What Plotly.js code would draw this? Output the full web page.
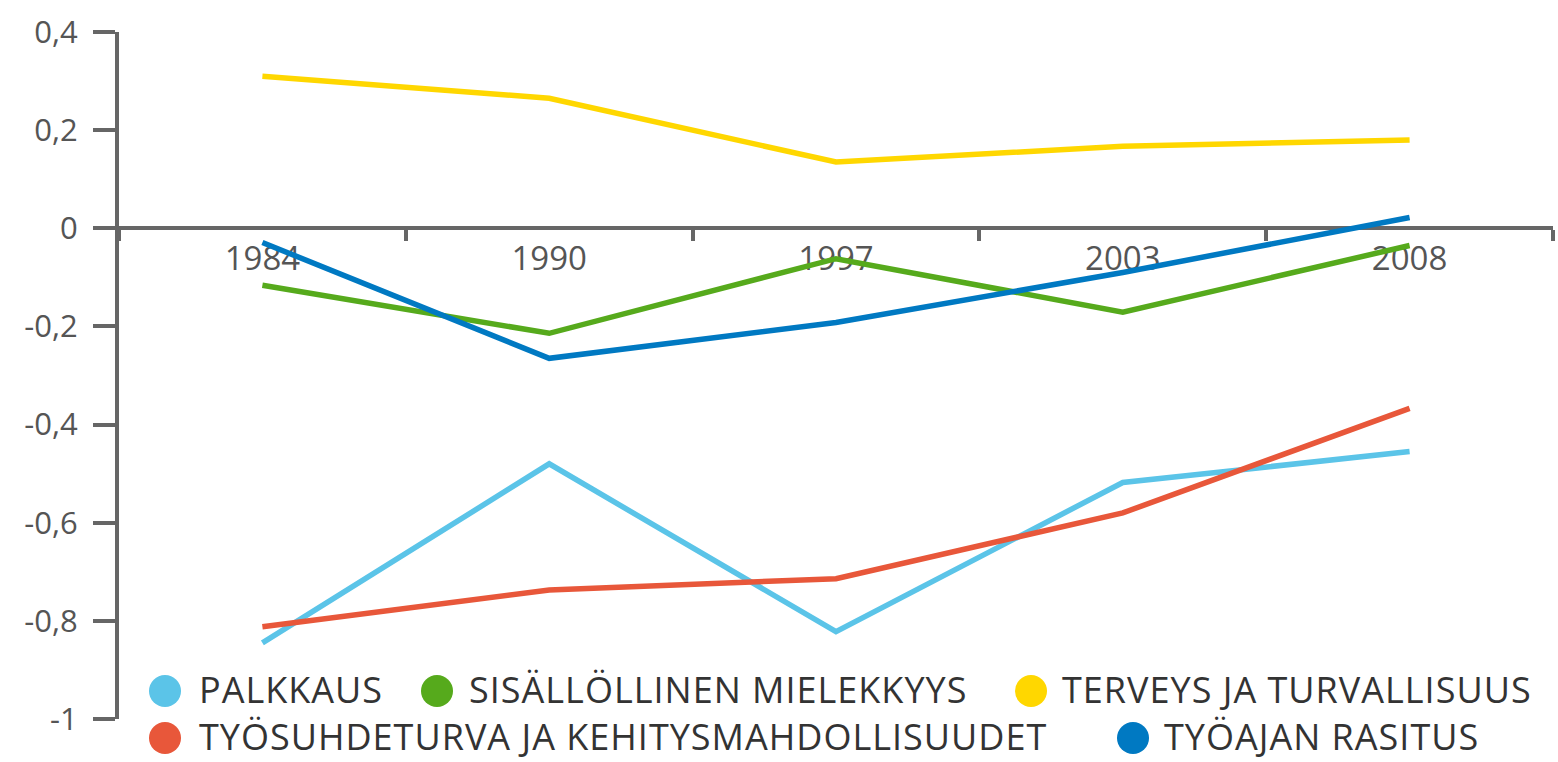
<!DOCTYPE html>
<html>
<head>
<meta charset="utf-8">
<script src="https://cdn.plot.ly/plotly-3.0.1.min.js"></script>
<style>html,body{margin:0;padding:0;background:#fff;}#chart{width:1558px;height:762px;}</style>
</head>
<body>
<div id="chart"></div>
<script>
// ---- data ----
var years = ['1984', '1990', '1997', '2003', '2008'];
var seriesNames = [
  'PALKKAUS',
  'SISÄLLÖLLINEN MIELEKKYYS',
  'TERVEYS JA TURVALLISUUS',
  'TYÖSUHDETURVA JA KEHITYSMAHDOLLISUUDET',
  'TYÖAJAN RASITUS'
];
var palkkaus      = [-0.845, -0.48, -0.822, -0.518, -0.455];
var sisallollinen = [-0.116, -0.214, -0.062, -0.171, -0.035];
var terveys       = [0.31, 0.265, 0.135, 0.167, 0.18];
var tyosuhde      = [-0.812, -0.737, -0.714, -0.58, -0.367];
var tyoaika       = [-0.029, -0.265, -0.192, -0.09, 0.022];
var yTickVals = [0.4, 0.2, 0, -0.2, -0.4, -0.6, -0.8, -1];
var yTickText = ['0,4', '0,2', '0', '-0,2', '-0,4', '-0,6', '-0,8', '-1'];

// ---- styling ----
var colors = ['#5BC4E8', '#56AA1C', '#FFD700', '#E8573A', '#0079C2'];
var values = [palkkaus, sisallollinen, terveys, tyosuhde, tyoaika];

var W = 1558, H = 762;
var M = {l: 119, r: 5, t: 32, b: 43};
var pw = W - M.l - M.r, ph = H - M.t - M.b;
function px(x) { return (x - M.l) / pw; }
function py(y) { return (H - M.b - y) / ph; }

var traces = values.map(function (v, i) {
  return {
    type: 'scatter', mode: 'lines', x: years, y: v, name: seriesNames[i],
    line: {color: colors[i], width: 5.5}, showlegend: false, hoverinfo: 'x+y+name'
  };
});

// legend layout (marker centre x, text x, row y)
var legendPos = [
  {cx: 165, tx: 198, y: 689},
  {cx: 437, tx: 468, y: 689},
  {cx: 1031, tx: 1061, y: 689},
  {cx: 165, tx: 198, y: 736},
  {cx: 1133, tx: 1163, y: 736}
];
var shapes = [], annotations = [];
legendPos.forEach(function (p, i) {
  shapes.push({
    type: 'circle', xref: 'paper', yref: 'paper',
    xsizemode: 'pixel', ysizemode: 'pixel',
    xanchor: px(p.cx), yanchor: py(p.y + 2),
    x0: -16, x1: 16, y0: -16, y1: 16,
    fillcolor: colors[i], line: {width: 0}
  });
  annotations.push({
    xref: 'paper', yref: 'paper', x: px(p.tx), y: py(p.y),
    xanchor: 'left', yanchor: 'middle', showarrow: false,
    text: '<span style="letter-spacing:1px">' + seriesNames[i] + '</span>', borderpad: 0,
    font: {family: 'Open Sans', size: 36, color: '#333333'}
  });
});

var layout = {
  width: W, height: H,
  margin: M,
  paper_bgcolor: '#fff', plot_bgcolor: '#fff',
  showlegend: false,
  xaxis: {
    type: 'category', range: [-0.5, 4.5],
    anchor: 'free', position: 1 / 1.4, side: 'bottom',
    showline: true, linecolor: '#666666', linewidth: 4,
    ticks: 'outside', tickson: 'boundaries', ticklen: 11, tickwidth: 4, tickcolor: '#666666',
    showgrid: false, zeroline: false,
    tickfont: {family: 'Open Sans', size: 33, color: '#555555'},
    layer: 'below traces', fixedrange: true
  },
  yaxis: {
    range: [-1, 0.4],
    tickvals: yTickVals, ticktext: yTickText,
    showline: true, linecolor: '#666666', linewidth: 4,
    ticks: 'outside', ticklen: 22, tickwidth: 4, tickcolor: '#666666',
    showgrid: false, zeroline: false,
    tickfont: {family: 'Open Sans', size: 31, color: '#555555'},
    ticklabelstandoff: 9,
    layer: 'below traces', fixedrange: true
  },
  shapes: shapes,
  annotations: annotations
};

Plotly.newPlot('chart', traces, layout, {displayModeBar: false, staticPlot: true});
</script>
</body>
</html>
